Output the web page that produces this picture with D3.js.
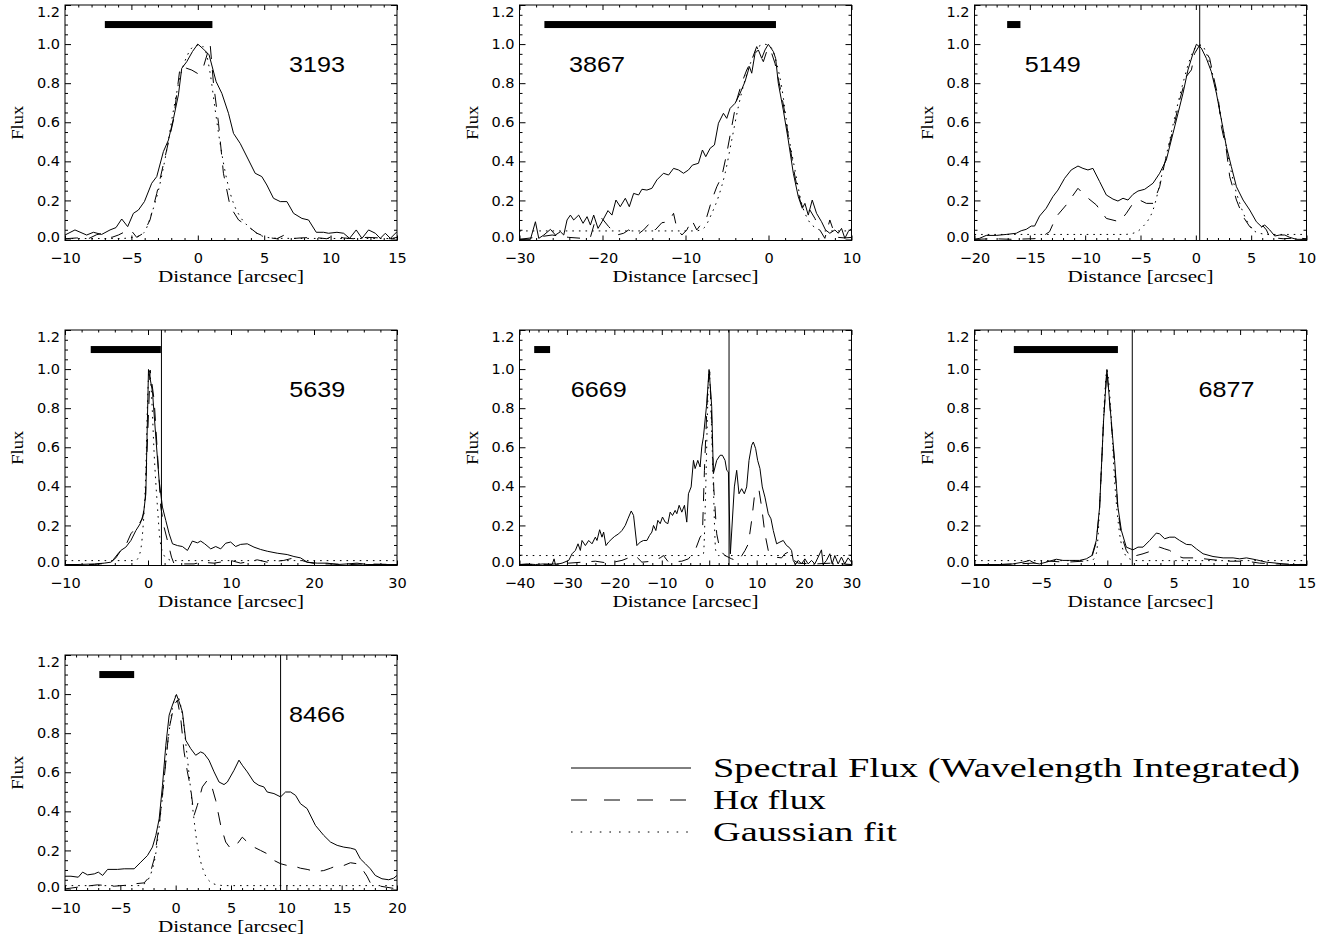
<!DOCTYPE html>
<html><head><meta charset="utf-8">
<script src="https://cdn.jsdelivr.net/npm/d3@7"></script>
<style>body{margin:0;background:#fff}</style>
</head><body>
<svg id="c" width="1326" height="936"></svg>
<script>
// ---------------- DATA ----------------
const panelNames = ["3193","3867","5149","5639","6669","6877","8466"];
const xDomains = [[-10,15],[-30,10],[-20,10],[-10,30],[-40,30],[-10,15],[-10,20]];
const xMajorSteps = [5,10,5,10,10,5,5];
const xMinorSteps = [1,2,1,2,2,1,1];
const yDomain = [-0.005, 1.2];
const yTickValues = [0,0.2,0.4,0.6,0.8,1.0,1.2];
const yMinorStep = 0.05;
const barRanges = [[-7,1.1],[-27,0.9],[-17.05,-15.85],[-6.9,1.55],[-36.9,-33.55],[-7.04,0.8],[-6.9,-3.75]];
const barLevel = 1.1;
const markerLines = [null,null,0.35,1.62,4.18,1.88,9.48];
const labelX = [8.97,-20.66,-12.92,20.4,-23.3,8.97,12.78];
const labelY = 0.9;
const legendLabels = ["Spectral Flux (Wavelength Integrated)","H\u03B1 flux","Gaussian fit"];

const flux3193 = [[-10,0.023],[-9.25,0.049],[-8.37,0.023],[-7.86,0.037],[-7.24,0.026],[-6.61,0.049],[-6.16,0.061],[-5.73,0.105],[-5.28,0.066],[-4.85,0.134],[-4.47,0.151],[-4.02,0.194],[-3.47,0.288],[-3.09,0.322],[-2.59,0.45],[-2.21,0.509],[-1.83,0.62],[-1.46,0.74],[-1.21,0.876],[-0.83,0.91],[-0.4,0.962],[0,1.0],[0.43,0.974],[0.85,0.945],[1.38,0.808],[1.81,0.748],[2.31,0.646],[2.69,0.543],[3.19,0.492],[3.82,0.407],[4.32,0.339],[4.82,0.322],[5.2,0.279],[5.7,0.211],[6.21,0.194],[6.71,0.194],[7.21,0.134],[7.84,0.108],[8.34,0.1],[8.92,0.037],[9.47,0.037],[9.85,0.032],[10.48,0.037],[10.98,0.032],[11.43,0.006],[11.93,0.049],[12.36,0.006],[12.86,0.049],[13.37,0.032],[13.74,0.006],[14.12,0.032],[14.5,0.006],[15,0.04]];
const ha3193 = [[-10,0.004],[-9.12,0.008],[-8.24,0.004],[-7.61,0.025],[-7.11,0.032],[-6.48,0.011],[-5.98,0.023],[-5.48,0.04],[-5.05,0.049],[-4.6,0.011],[-4.1,0.032],[-3.6,0.1],[-3.09,0.236],[-2.46,0.424],[-1.83,0.612],[-1.33,0.885],[-0.83,0.876],[-0.45,0.867],[0.05,0.847],[0.43,0.885],[0.93,0.999],[1.18,0.8],[1.56,0.595],[1.93,0.339],[2.44,0.168],[3.07,0.1],[3.82,0.066],[4.45,0.032],[5.2,0.011],[5.95,0.004],[6.46,0.021],[6.96,0.004],[7.71,0.008],[8.72,0.011],[9.72,0.004],[10.23,0.021],[10.98,0.008],[11.73,0.004],[12.74,0.011],[13.74,0.008],[14.5,0.004],[15,0.011]];
const gauss3193 = [[-10,0.005],[-6,0.005],[-4.85,0.011],[-4.1,0.032],[-3.47,0.134],[-2.96,0.253],[-2.34,0.458],[-1.83,0.663],[-1.33,0.834],[-0.83,0.936],[-0.33,0.987],[0.18,0.996],[0.55,0.97],[0.93,0.851],[1.31,0.663],[1.68,0.492],[2.19,0.305],[2.69,0.185],[3.19,0.117],[3.82,0.066],[4.45,0.032],[5.2,0.011],[6.2,0.006],[15,0.005]];

const flux3867 = [[-30,0.001],[-28.68,0.001],[-28.08,0.091],[-27.68,0.006],[-27.07,0.023],[-26.27,0.052],[-25.67,0.023],[-25.07,0.04],[-24.67,0.023],[-24.27,0.1],[-23.87,0.125],[-23.47,0.1],[-22.87,0.125],[-22.34,0.083],[-21.86,0.117],[-21.46,0.074],[-21.06,0.125],[-20.54,0.057],[-20.06,0.091],[-19.34,0.148],[-18.86,0.125],[-18.38,0.202],[-17.86,0.168],[-17.25,0.211],[-16.77,0.168],[-16.25,0.236],[-15.65,0.228],[-15.25,0.257],[-14.65,0.253],[-14.05,0.262],[-13.45,0.305],[-12.65,0.339],[-12.04,0.33],[-11.44,0.364],[-10.84,0.356],[-10.24,0.339],[-9.64,0.356],[-9.16,0.381],[-8.44,0.39],[-7.96,0.458],[-7.56,0.424],[-7.03,0.467],[-6.51,0.484],[-6.03,0.595],[-5.43,0.646],[-5.03,0.62],[-4.63,0.671],[-4.03,0.697],[-3.43,0.748],[-2.83,0.808],[-2.3,0.885],[-2.02,0.851],[-1.62,0.953],[-1.22,0.97],[-0.82,0.927],[-0.42,0.97],[-0.02,0.999],[0.58,0.962],[0.86,0.927],[1.18,0.8],[1.78,0.663],[2.38,0.509],[2.99,0.339],[3.59,0.219],[4.07,0.16],[4.39,0.185],[4.79,0.125],[5.27,0.202],[5.79,0.134],[6.39,0.091],[6.87,0.049],[7.39,0.032],[8.0,0.049],[8.4,0.032],[8.8,0.057],[9.2,0.006],[9.6,0.04],[10,0.057]];
const ha3867 = [[-30,0.001],[-28.08,0.011],[-26.07,0.023],[-24.07,0.011],[-22.46,0.006],[-21.46,0.011],[-20.86,0.1],[-20.06,0.108],[-19.26,0.066],[-18.26,0.023],[-17.45,0.032],[-16.85,0.049],[-15.85,0.023],[-15.05,0.049],[-14.25,0.086],[-13.65,0.049],[-12.85,0.086],[-12.04,0.091],[-11.44,0.134],[-11.04,0.057],[-10.44,0.023],[-9.84,0.049],[-9.24,0.1],[-8.64,0.049],[-8.04,0.083],[-7.43,0.117],[-6.83,0.202],[-6.23,0.27],[-5.63,0.322],[-5.03,0.441],[-4.43,0.578],[-3.83,0.714],[-3.23,0.8],[-2.62,0.868],[-2.02,0.919],[-1.42,0.987],[-1.02,0.945],[-0.62,0.91],[-0.22,0.962],[0.18,0.979],[0.78,0.902],[1.38,0.782],[1.98,0.646],[2.59,0.475],[3.19,0.322],[3.79,0.202],[4.39,0.134],[4.99,0.151],[5.59,0.108],[6.19,0.049],[6.79,0.006],[7.39,0.1],[7.8,0.049],[8.4,0.011],[9.2,0.008],[10,0.011]];
const gauss3867 = [[-30,0.044],[-8.84,0.044],[-7.84,0.057],[-6.83,0.134],[-6.03,0.219],[-5.23,0.339],[-4.43,0.509],[-3.63,0.68],[-2.83,0.817],[-2.02,0.919],[-1.22,0.987],[-0.42,0.999],[0.38,0.979],[0.98,0.902],[1.58,0.782],[2.38,0.543],[3.19,0.356],[3.99,0.185],[4.79,0.1],[5.79,0.057],[6.79,0.044],[10,0.044]];

const flux5149 = [[-20,0.001],[-19.55,0.006],[-18.94,0.021],[-18.04,0.021],[-17.14,0.026],[-16.23,0.032],[-15.78,0.045],[-15.33,0.052],[-14.87,0.069],[-14.57,0.069],[-14.12,0.12],[-13.52,0.16],[-12.92,0.219],[-12.46,0.253],[-11.86,0.313],[-11.26,0.356],[-10.65,0.376],[-10.2,0.364],[-9.75,0.356],[-9.3,0.364],[-8.69,0.296],[-8.09,0.228],[-7.49,0.207],[-7.04,0.197],[-6.58,0.211],[-6.13,0.202],[-5.68,0.231],[-5.23,0.248],[-4.62,0.257],[-3.87,0.288],[-3.27,0.339],[-2.67,0.407],[-2.06,0.544],[-1.61,0.646],[-1.16,0.748],[-0.71,0.868],[-0.25,0.953],[0.05,0.999],[0.5,0.979],[0.95,0.927],[1.4,0.859],[1.86,0.748],[2.31,0.612],[2.76,0.475],[3.21,0.373],[3.67,0.27],[4.27,0.202],[4.87,0.151],[5.47,0.091],[5.93,0.066],[6.23,0.074],[6.68,0.049],[7.13,0.018],[7.59,0.023],[8.04,0.023],[8.49,0.011],[9.09,0.001],[10,0.001]];
const ha5149 = [[-20,0.001],[-18.34,0.004],[-16.53,0.001],[-14.72,0.004],[-14.12,0.006],[-13.22,0.04],[-12.61,0.117],[-11.71,0.177],[-10.65,0.262],[-9.9,0.219],[-8.99,0.177],[-8.09,0.108],[-6.89,0.091],[-6.28,0.134],[-5.68,0.185],[-5.08,0.202],[-4.47,0.185],[-3.87,0.185],[-3.27,0.27],[-2.82,0.39],[-2.06,0.561],[-1.46,0.714],[-0.86,0.834],[-0.4,0.868],[-0.1,0.953],[0.35,0.995],[0.8,0.97],[1.25,0.927],[1.56,0.842],[2.01,0.731],[2.31,0.578],[2.76,0.458],[3.06,0.322],[3.67,0.202],[4.27,0.117],[4.87,0.066],[5.47,0.045],[6.08,0.069],[6.38,0.049],[6.68,0.011],[7.89,0.004],[9.09,0.008],[10,0.004]];
const gauss5149 = [[-20,0.026],[-6.5,0.026],[-5.68,0.032],[-4.78,0.066],[-3.87,0.151],[-2.97,0.356],[-2.36,0.509],[-1.76,0.663],[-1.16,0.8],[-0.55,0.919],[0.05,0.987],[0.5,0.996],[0.95,0.953],[1.56,0.834],[2.16,0.663],[2.76,0.475],[3.36,0.305],[3.97,0.185],[4.57,0.1],[5.17,0.049],[5.78,0.032],[6.6,0.026],[10,0.026]];

const flux5639 = [[-10,0],[-8.48,0],[-6.47,0.003],[-5.27,0.007],[-4.47,0.012],[-3.87,0.034],[-3.27,0.072],[-2.67,0.089],[-2.06,0.123],[-1.46,0.174],[-0.94,0.209],[-0.54,0.26],[-0.26,0.362],[0.06,0.998],[0.54,0.884],[0.94,0.653],[1.34,0.431],[1.74,0.294],[2.14,0.226],[2.55,0.157],[2.95,0.106],[3.55,0.097],[4.15,0.092],[4.75,0.072],[5.35,0.12],[5.95,0.111],[6.35,0.12],[6.83,0.106],[7.56,0.08],[8.16,0.092],[8.76,0.08],[9.36,0.109],[9.96,0.115],[10.56,0.092],[11.16,0.103],[11.96,0.106],[12.77,0.089],[13.57,0.077],[14.37,0.068],[15.57,0.058],[16.77,0.051],[17.58,0.041],[18.38,0.034],[19.18,0.012],[20.38,0.007],[21.58,0.007],[22.79,0],[23.99,0.003],[25.19,0.007],[26.39,0],[28,0],[30,0]];
const ha5639 = [[-10,0],[-6.47,0],[-4.47,0.009],[-3.47,0.063],[-2.87,0.08],[-2.06,0.157],[-1.26,0.2],[-0.66,0.234],[-0.34,0.328],[0.26,0.995],[0.74,0.841],[1.14,0.568],[1.54,0.294],[1.94,0.191],[2.34,0.123],[2.83,0.038],[3.15,0.003],[5.55,0.003],[6.35,0.012],[7.96,0.007],[9.96,0.021],[11.16,0.007],[13.17,0.024],[14.37,0.012],[16.37,0.021],[17.58,0.034],[19.18,0.012],[20.38,0.003],[22.38,0.003],[24.39,0],[26.39,0.003],[30,0]];
const gauss5639 = [[-10,0.02],[-1.5,0.02],[-1.06,0.046],[-0.66,0.157],[-0.26,0.482],[-0.06,0.824],[0.14,0.995],[0.42,0.875],[0.74,0.568],[1.14,0.294],[1.46,0.123],[1.94,0.046],[2.34,0.03],[3,0.02],[30,0.02]];

const flux6669 = [[-40,0],[-38.39,0.003],[-36.63,0],[-34.88,0.003],[-33.13,0],[-32.71,0.029],[-32.43,0],[-31.02,0.007],[-29.62,0.021],[-28.92,0.055],[-28.22,0.072],[-27.66,0.106],[-27.17,0.072],[-26.82,0.123],[-26.11,0.097],[-25.41,0.123],[-24.71,0.106],[-24.01,0.14],[-23.66,0.123],[-23.1,0.178],[-22.61,0.14],[-22.26,0.166],[-21.77,0.097],[-21.21,0.115],[-20.5,0.132],[-19.94,0.144],[-19.1,0.157],[-18.4,0.174],[-17.7,0.2],[-17.14,0.234],[-16.44,0.274],[-15.95,0.251],[-15.25,0.097],[-14.54,0.115],[-13.84,0.123],[-13.14,0.123],[-12.58,0.149],[-12.09,0.166],[-11.74,0.2],[-11.25,0.174],[-10.83,0.226],[-10.34,0.209],[-9.85,0.243],[-9.28,0.217],[-8.72,0.209],[-8.23,0.268],[-7.74,0.251],[-7.18,0.277],[-6.83,0.26],[-6.34,0.303],[-5.78,0.268],[-5.22,0.303],[-4.73,0.217],[-4.38,0.362],[-3.81,0.397],[-3.32,0.533],[-2.97,0.491],[-2.41,0.533],[-1.92,0.499],[-1.57,0.602],[-1.22,0.653],[-0.52,0.824],[-0.03,0.998],[0.53,0.807],[0.88,0.465],[1.58,0.533],[2.29,0.559],[2.78,0.559],[3.34,0.533],[3.69,0.482],[4.04,0.474],[4.46,0.055],[5.3,0.397],[5.79,0.482],[6.28,0.362],[6.84,0.388],[7.41,0.362],[7.9,0.397],[8.39,0.533],[8.95,0.61],[9.3,0.627],[9.79,0.593],[10.21,0.533],[10.7,0.491],[11.19,0.397],[11.75,0.345],[12.45,0.26],[13.02,0.234],[13.51,0.174],[14.21,0.106],[14.91,0.115],[15.61,0.123],[16.31,0.097],[16.8,0.089],[17.36,0.072],[17.71,0.021],[18.2,0],[18.77,0.021],[19.47,0.003],[20.17,0.029],[20.87,0.003],[21.57,0.021],[22.27,0.003],[22.97,0.038],[23.67,0.075],[24.02,0],[24.73,0.021],[25.43,0.055],[25.92,0.003],[26.48,0.046],[27.18,0.003],[27.88,0.038],[28.58,0.003],[29.28,0.034],[30,0.012]];
const ha6669 = [[-40,0],[-35.23,0],[-32.43,0.003],[-29.62,0.007],[-26.82,0.012],[-24.01,0.017],[-21.21,0.007],[-18.4,0.021],[-17.0,0.034],[-15.6,0.046],[-14.19,0.012],[-12.09,0.017],[-10.34,0.034],[-9.64,0.046],[-8.58,0.012],[-5.78,0.017],[-4.38,0.029],[-2.97,0.072],[-1.92,0.14],[-1.43,0.157],[-1.01,0.482],[-0.31,0.909],[0.11,0.986],[0.53,0.738],[0.95,0.397],[1.58,0.157],[2.29,0.072],[3.34,0.046],[4.74,0.029],[6.14,0.017],[7.55,0.072],[8.25,0.106],[8.95,0.226],[9.51,0.345],[10.0,0.379],[10.49,0.383],[11.05,0.294],[11.75,0.157],[12.45,0.072],[13.86,0.038],[15.26,0.034],[15.96,0.055],[16.66,0.063],[17.36,0.029],[18.77,0.007],[22.27,0.003],[25.78,0.007],[30,0]];
const gauss6669 = [[-40,0.046],[-1.6,0.046],[-1.22,0.055],[-0.73,0.397],[-0.31,0.824],[-0.03,0.995],[0.39,0.773],[0.88,0.397],[1.37,0.072],[1.93,0.046],[30,0.046]];

const flux6877 = [[-10,0],[-9.12,0],[-8.12,0],[-7.11,0.003],[-6.36,0.012],[-5.85,0.021],[-5.48,0.007],[-5.1,0.003],[-4.6,0.012],[-3.84,0.027],[-3.34,0.021],[-2.84,0.021],[-2.09,0.021],[-1.58,0.029],[-1.16,0.046],[-0.83,0.123],[-0.58,0.294],[-0.28,0.738],[-0.03,0.998],[0.23,0.79],[0.55,0.533],[0.8,0.294],[1.06,0.174],[1.43,0.089],[1.93,0.075],[2.31,0.089],[2.69,0.089],[3.19,0.123],[3.69,0.161],[3.94,0.157],[4.32,0.132],[4.7,0.14],[5.08,0.14],[5.45,0.123],[5.95,0.103],[6.33,0.101],[6.71,0.08],[7.21,0.055],[7.96,0.041],[8.72,0.034],[9.47,0.034],[9.97,0.029],[10.48,0.034],[11.23,0.024],[11.98,0.012],[12.74,0.007],[13.24,0.003],[13.74,0],[15,0]];
const ha6877 = [[-10,0],[-8.12,0],[-6.86,0.003],[-5.6,0.007],[-4.35,0.017],[-3.09,0.012],[-1.83,0.017],[-1.16,0.038],[-0.83,0.115],[-0.58,0.285],[-0.28,0.738],[-0.03,0.998],[0.23,0.781],[0.55,0.516],[0.8,0.277],[1.06,0.149],[1.43,0.072],[1.81,0.034],[2.19,0.046],[2.69,0.055],[3.44,0.072],[3.94,0.089],[4.32,0.08],[4.7,0.072],[5.2,0.046],[5.7,0.034],[6.71,0.034],[7.96,0.024],[9.22,0.017],[10.48,0.017],[11.48,0.007],[12.74,0.003],[15,0]];
const gauss6877 = [[-10,0.02],[-1.2,0.02],[-0.83,0.055],[-0.45,0.482],[-0.2,0.858],[-0.03,0.995],[0.23,0.824],[0.55,0.431],[0.93,0.157],[1.31,0.055],[1.68,0.029],[2.3,0.02],[15,0.02]];

const flux8466 = [[-10,0.068],[-9.46,0.068],[-8.8,0.063],[-8.41,0.089],[-7.96,0.075],[-7.35,0.08],[-6.99,0.089],[-6.6,0.072],[-6.15,0.103],[-5.25,0.103],[-4.65,0.106],[-3.75,0.106],[-3.15,0.14],[-2.55,0.174],[-2.1,0.217],[-1.79,0.277],[-1.49,0.362],[-1.19,0.533],[-0.89,0.738],[-0.59,0.892],[-0.29,0.944],[0.07,0.998],[0.31,0.961],[0.61,0.909],[0.91,0.764],[1.36,0.721],[1.81,0.687],[2.26,0.704],[2.56,0.696],[3.01,0.662],[3.47,0.602],[3.92,0.55],[4.37,0.537],[4.67,0.55],[5.27,0.61],[5.72,0.662],[6.02,0.636],[6.47,0.602],[7.07,0.55],[7.52,0.533],[7.97,0.525],[8.27,0.499],[8.88,0.491],[9.48,0.474],[9.93,0.499],[10.38,0.499],[10.83,0.482],[11.28,0.439],[11.88,0.414],[12.63,0.328],[13.38,0.277],[13.99,0.243],[14.59,0.226],[15.19,0.217],[15.79,0.212],[16.24,0.205],[16.69,0.157],[17.14,0.132],[17.59,0.106],[18.04,0.072],[18.64,0.055],[19.25,0.05],[19.7,0.058],[20,0.072]];
const ha8466 = [[-10,0.003],[-8.86,0.012],[-7.05,0.024],[-5.55,0.017],[-4.65,0.021],[-3.75,0.029],[-2.85,0.034],[-2.4,0.063],[-1.94,0.157],[-1.49,0.328],[-1.04,0.568],[-0.59,0.824],[-0.14,0.944],[0.16,0.969],[0.46,0.875],[0.76,0.704],[1.06,0.602],[1.36,0.516],[1.66,0.379],[1.96,0.431],[2.41,0.525],[2.86,0.559],[3.32,0.516],[3.62,0.456],[4.07,0.328],[4.52,0.243],[4.97,0.209],[5.57,0.234],[6.02,0.268],[6.47,0.243],[7.07,0.217],[7.67,0.2],[8.27,0.183],[8.88,0.149],[9.48,0.132],[10.08,0.123],[10.68,0.12],[11.28,0.109],[11.88,0.103],[12.63,0.092],[13.38,0.097],[13.99,0.109],[14.59,0.123],[15.19,0.123],[15.79,0.137],[16.39,0.132],[16.84,0.106],[17.29,0.068],[17.59,0.034],[18.5,0.017],[20,0.003]];
const gauss8466 = [[-10,0.02],[-3.4,0.02],[-2.85,0.029],[-1.94,0.14],[-1.34,0.397],[-0.74,0.738],[-0.29,0.926],[0.07,0.995],[0.61,0.892],[1.06,0.67],[1.51,0.431],[1.96,0.226],[2.56,0.089],[3.16,0.038],[3.77,0.024],[4.5,0.02],[20,0.02]];

const fluxSeries = [flux3193, flux3867, flux5149, flux5639, flux6669, flux6877, flux8466];
const haSeries = [ha3193, ha3867, ha5149, ha5639, ha6669, ha6877, ha8466];
const gaussSeries = [gauss3193, gauss3867, gauss5149, gauss5639, gauss6669, gauss6877, gauss8466];

// ---------------- LAYOUT ----------------
const W = 332, H = 235.5;
const lefts = [65, 519.5, 974.5], tops = [5, 330, 655];
const DASH = "13,11", DOT = "1.6,5";
const tickFont = "'DejaVu Sans', sans-serif";
const serifFont = "'Liberation Serif', serif";
const labelFont = "'Liberation Sans', sans-serif";

const svg = d3.select("#c");
svg.append("rect").attr("width",1326).attr("height",936).attr("fill","#fff");

const range = (a,b,s) => { const out=[]; for (let v=a; v<=b+1e-9; v+=s) out.push(+v.toFixed(6)); return out; };

panelNames.forEach((name, i) => {
  const L = lefts[i % 3], T = tops[Math.floor(i / 3)];
  const g = svg.append("g").attr("transform", `translate(${L},${T})`);
  const x = d3.scaleLinear().domain(xDomains[i]).range([0, W]);
  const y = d3.scaleLinear().domain(yDomain).range([H, 0]);
  const cid = "clip" + i;
  g.append("clipPath").attr("id", cid).append("rect").attr("width", W).attr("height", H);
  const plot = g.append("g").attr("clip-path", `url(#${cid})`);

  const straight = d3.line().x(d => x(d[0])).y(d => y(d[1]));
  const smooth = d3.line().x(d => x(d[0])).y(d => y(d[1])).curve(d3.curveMonotoneX);

  plot.append("path").datum(gaussSeries[i]).attr("d", smooth)
    .attr("fill","none").attr("stroke","#000").attr("stroke-width",1).attr("stroke-dasharray",DOT);
  plot.append("path").datum(haSeries[i]).attr("d", straight)
    .attr("fill","none").attr("stroke","#000").attr("stroke-width",1).attr("stroke-dasharray",DASH);
  plot.append("path").datum(fluxSeries[i]).attr("d", straight)
    .attr("fill","none").attr("stroke","#000").attr("stroke-width",1);

  // slit bar
  const br = barRanges[i];
  plot.append("rect").attr("x", x(br[0])).attr("width", x(br[1]) - x(br[0]))
    .attr("y", y(barLevel) - 3.5).attr("height", 7).attr("fill", "#000");
  // marker line
  if (markerLines[i] !== null) {
    plot.append("line").attr("x1", x(markerLines[i])).attr("x2", x(markerLines[i]))
      .attr("y1", 0).attr("y2", H).attr("stroke", "#000").attr("stroke-width", 1);
  }
  // label
  g.append("text").attr("x", x(labelX[i])).attr("y", y(labelY) + 8)
    .attr("text-anchor","middle").attr("font-family", labelFont).attr("font-size", 22)
    .attr("textLength", 56).attr("lengthAdjust","spacingAndGlyphs").text(name);

  // axes
  const [x0, x1] = xDomains[i];
  const xMaj = range(x0, x1, xMajorSteps[i]);
  const xMin = range(x0, x1, xMinorSteps[i]).filter(v => !xMaj.includes(v));
  const yMin = range(0, 1.2, yMinorStep).filter(v => !yTickValues.some(t => Math.abs(t - v) < 1e-6));

  const style = sel => { sel.select(".domain").remove(); sel.selectAll("line").attr("stroke","#000"); };
  const bottom = g.append("g").attr("transform", `translate(0,${H})`)
    .call(d3.axisBottom(x).tickValues(xMaj).tickSizeInner(-5).tickSizeOuter(0).tickPadding(12).tickFormat(d3.format("d")));
  style(bottom);
  bottom.selectAll("text").attr("font-family", tickFont).attr("font-size", 14.5).attr("fill","#000");
  g.append("g").attr("transform", `translate(0,${H})`)
    .call(d3.axisBottom(x).tickValues(xMin).tickSizeInner(-2.5).tickSizeOuter(0).tickFormat("")).call(style);
  g.append("g").call(d3.axisTop(x).tickValues(xMaj).tickSizeInner(-5).tickSizeOuter(0).tickFormat("")).call(style);
  g.append("g").call(d3.axisTop(x).tickValues(xMin).tickSizeInner(-2.5).tickSizeOuter(0).tickFormat("")).call(style);

  const left = g.append("g")
    .call(d3.axisLeft(y).tickValues(yTickValues).tickSizeInner(-6).tickSizeOuter(0).tickPadding(5).tickFormat(d3.format(".1f")));
  style(left);
  left.selectAll("text").attr("font-family", tickFont).attr("font-size", 14.5).attr("fill","#000")
    .attr("y", d => d >= 1.2 ? 7 : (d === 0 ? -2.5 : 0));
  g.append("g").call(d3.axisLeft(y).tickValues(yMin).tickSizeInner(-3).tickSizeOuter(0).tickFormat("")).call(style);
  g.append("g").attr("transform", `translate(${W},0)`)
    .call(d3.axisRight(y).tickValues(yTickValues).tickSizeInner(-6).tickSizeOuter(0).tickFormat("")).call(style);
  g.append("g").attr("transform", `translate(${W},0)`)
    .call(d3.axisRight(y).tickValues(yMin).tickSizeInner(-3).tickSizeOuter(0).tickFormat("")).call(style);

  // frame
  g.append("rect").attr("width", W).attr("height", H).attr("fill","none").attr("stroke","#000").attr("stroke-width",1);

  // titles
  g.append("text").attr("x", W / 2).attr("y", H + 41).attr("text-anchor","middle")
    .attr("font-family", serifFont).attr("font-size", 17)
    .attr("textLength", 146).attr("lengthAdjust","spacingAndGlyphs").text("Distance [arcsec]");
  g.append("text").attr("transform", `translate(-42,${H / 2}) rotate(-90)`).attr("text-anchor","middle")
    .attr("font-family", serifFont).attr("font-size", 17)
    .attr("textLength", 34).attr("lengthAdjust","spacingAndGlyphs").text("Flux");
});

// ---------------- LEGEND ----------------
const legendStyles = [null, "16,17", "1.6,8"];
const legendLengths = [587, 113, 184];
const legendX1 = 571, legendX2 = 691, legendTextX = 713, legendY0 = 768, legendDY = 32;
legendLabels.forEach((lab, k) => {
  const yy = legendY0 + k * legendDY;
  const ln = svg.append("line").attr("x1", legendX1).attr("x2", k === 1 ? 686 : legendX2)
    .attr("y1", yy).attr("y2", yy).attr("stroke","#000").attr("stroke-width",1);
  if (legendStyles[k]) ln.attr("stroke-dasharray", legendStyles[k]);
  svg.append("text").attr("x", legendTextX).attr("y", yy + 9)
    .attr("font-family", serifFont).attr("font-size", 27)
    .attr("textLength", legendLengths[k]).attr("lengthAdjust","spacingAndGlyphs").text(lab);
});
</script>
</body></html>
